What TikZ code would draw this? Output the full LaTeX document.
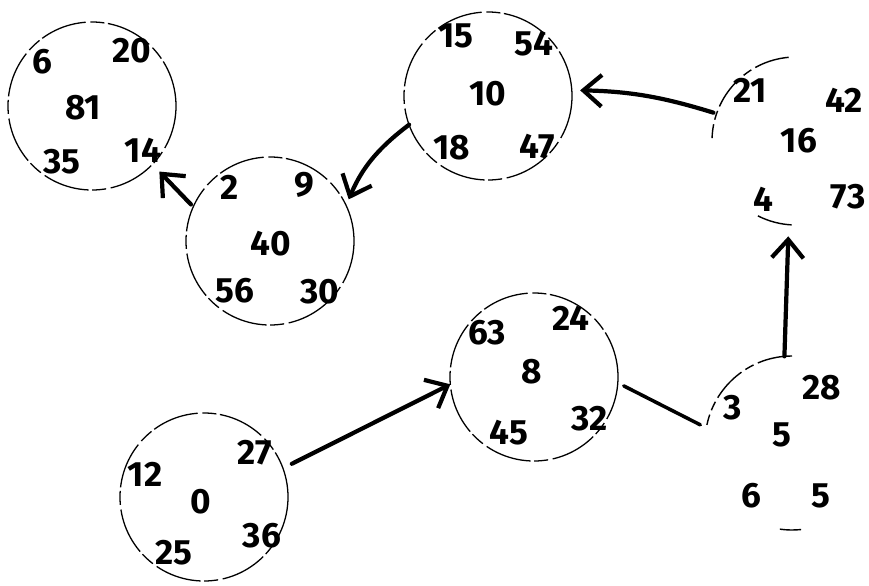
\documentclass[tikz,border=0pt]{standalone}
\usepackage{fontspec}
\setmainfont{Fira Sans}
\usetikzlibrary{arrows.meta}

\begin{document}
\begin{tikzpicture}[
  x=0.3mm,y=-0.3mm,
  ring/.style={circle,draw,line width=1.1pt,dash pattern=on 40pt off 3pt on 12pt off 4pt,minimum size=50.4mm,inner sep=0pt,outer sep=0pt},
  rim/.style={line width=1.2pt,dash pattern=on 30pt off 4pt on 8pt off 4pt},
  num/.style={font=\fontsize{30}{32}\selectfont\bfseries,inner sep=0pt},
  arrow/.style={-{Straight Barb[length=5.5mm,width=9.5mm]},line width=3.6pt,line cap=round},
  link/.style={line width=3pt,line cap=round}
]
  \useasboundingbox (0,0) rectangle (869,585);
  % circles
  \node[ring] (r81) at (92,106) {};
  \node[ring] (r40) at (270,241) {};
  \node[ring] (r10) at (488,96) {};
  \node[ring,draw=none] (r16) at (796,141) {};
  \node[ring] (r8) at (534,377) {};
  \node[ring,draw=none,minimum size=52.2mm] (r5) at (792,443) {};
  \node[ring] (r0) at (204,497) {};
  % broken rims
  \draw[rim] (r16.95) arc[start angle=95,end angle=178,radius=25.2mm];
  \draw[rim] (r16.243) arc[start angle=243,end angle=268,radius=25.2mm];
  \draw[rim] (r5.90) arc[start angle=90,end angle=168,radius=26.1mm];
  \draw[rim] (r5.262) arc[start angle=262,end angle=276,radius=26.1mm];
  % numbers
  \node[num] (n81-6) at (42,62) {6};
  \node[num] (n81-20) at (132,51) {20};
  \node[num] (n81-81) at (83,108) {81};
  \node[num] (n81-35) at (62,162) {35};
  \node[num] (n81-14) at (143,150) {14};
  \node[num] (n40-2) at (230,187) {2};
  \node[num] (n40-9) at (304,185) {9};
  \node[num] (n40-40) at (271,244) {40};
  \node[num] (n40-56) at (235,291) {56};
  \node[num] (n40-30) at (320,292) {30};
  \node[num] (n10-15) at (456,36) {15};
  \node[num] (n10-54) at (534,44) {54};
  \node[num] (n10-10) at (488,94) {10};
  \node[num] (n10-18) at (452,148) {18};
  \node[num] (n10-47) at (537,147) {47};
  \node[num] (n16-21) at (750,90) {21};
  \node[num] (n16-42) at (844,100) {42};
  \node[num] (n16-16) at (799,141) {16};
  \node[num] (n16-4) at (763,199) {4};
  \node[num] (n16-73) at (848,197) {73};
  \node[num] (n8-63) at (487,333) {63};
  \node[num] (n8-24) at (571,318) {24};
  \node[num] (n8-8) at (532,372) {8};
  \node[num] (n8-45) at (509,433) {45};
  \node[num] (n8-32) at (590,419) {32};
  \node[num] (n5-3) at (733,408) {3};
  \node[num] (n5-28) at (822,388) {28};
  \node[num] (n5-5) at (782,435) {5};
  \node[num] (n5-6) at (751,496) {6};
  \node[num] (n5-5b) at (821,496) {5};
  \node[num] (n0-12) at (145,474) {12};
  \node[num] (n0-27) at (255,453) {27};
  \node[num] (n0-0) at (201,502) {0};
  \node[num] (n0-25) at (174,553) {25};
  \node[num] (n0-36) at (262,536) {36};
  % connectors
  \draw[arrow,shorten <=3mm] (r0.20) -- (r8.185);
  \draw[link,shorten <=2mm,shorten >=2mm] (r8.-4) -- (r5.170);
  \draw[arrow,shorten >=3.5mm] (r5.95) -- (r16.265);
  \draw[arrow,shorten <=1mm,shorten >=2.5mm] (r16.161) to[bend right=8] (r10.4);
  \draw[arrow,shorten >=2mm] (r10.200) to[bend right=15] (r40.25);
  \draw[arrow,shorten <=1mm,shorten >=3mm] (r40.156) -- (r81.-44);
\end{tikzpicture}
\end{document}
